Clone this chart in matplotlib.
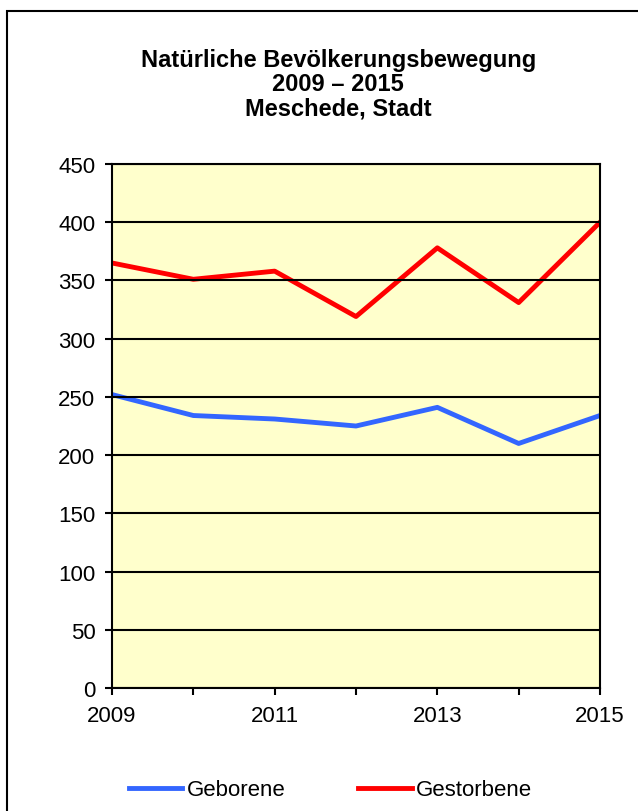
import matplotlib.pyplot as plt
from matplotlib.patches import Rectangle

years = [2009, 2010, 2011, 2012, 2013, 2014, 2015]
geborene = [252, 234, 231, 225, 241, 210, 234]
gestorbene = [365, 351, 358, 319, 378, 331, 400]
title = "Natürliche Bevölkerungsbewegung\n2009 – 2015\nMeschede, Stadt"

plt.rcParams['font.family'] = ['Liberation Sans', 'DejaVu Sans']

fig = plt.figure(figsize=(6.38, 8.12), dpi=100)
# outer frame (only top and left visible in the original)
fig.patches.append(Rectangle((7 / 638, -0.1), 1.2, 1 - 12 / 812 + 0.1,
                             transform=fig.transFigure, fill=False,
                             edgecolor='black', linewidth=1.5))

ax = fig.add_axes([112 / 638, 1 - 689 / 812, 488 / 638, 524 / 812])
ax.set_facecolor('#ffffcc')

ax.plot(years, geborene, color='#3366ff', linewidth=3.5, label='Geborene')
ax.plot(years, gestorbene, color='#ff0000', linewidth=3.5, label='Gestorbene')

ax.set_xlim(2009, 2015)
ax.set_ylim(0, 450)
ax.set_yticks(range(0, 451, 50))
ax.set_xticks(years)
ax.set_xticklabels([str(y) if (y - 2009) % 2 == 0 else '' for y in years])
ax.grid(axis='y', color='black', linewidth=1.5)
ax.set_axisbelow(False)
for s in ax.spines.values():
    s.set_linewidth(1.5)
ax.tick_params(direction='out', length=5, width=1.5, labelsize=16, pad=7)
ax.tick_params(axis='y', pad=7)

fig.text(0.53, 1 - 49 / 812, title, ha='center', va='top',
         fontsize=17, fontweight='bold', linespacing=1.08)

fig.legend(loc='center', bbox_to_anchor=(0.518, 1 - 791 / 812), ncol=2,
           frameon=False, fontsize=16, handlelength=2.4, handletextpad=0.2,
           columnspacing=3.3)

fig.savefig('out.png', dpi=100)
